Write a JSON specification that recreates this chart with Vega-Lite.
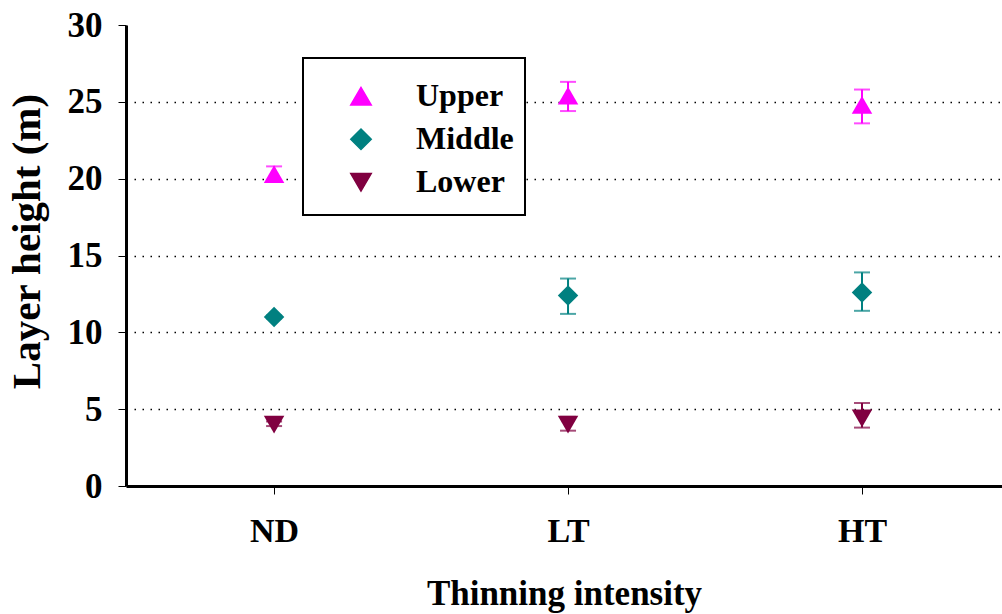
{
  "$schema": "https://vega.github.io/schema/vega-lite/v6.json",
  "width": 876,
  "height": 461,
  "autosize": {"type": "none"},
  "padding": {"left": 126, "top": 25, "right": 0, "bottom": 128},
  "background": "white",
  "config": {
    "view": {"stroke": null},
    "font": "Liberation Serif"
  },
  "data": {
    "values": [
      {"intensity": "ND", "layer": "Upper", "mean": 20.3, "lo": 19.8, "hi": 20.8},
      {"intensity": "ND", "layer": "Middle", "mean": 11.0, "lo": 10.9, "hi": 11.1},
      {"intensity": "ND", "layer": "Lower", "mean": 4.0, "lo": 3.9, "hi": 4.2},
      {"intensity": "LT", "layer": "Upper", "mean": 25.4, "lo": 24.4, "hi": 26.3},
      {"intensity": "LT", "layer": "Middle", "mean": 12.4, "lo": 11.2, "hi": 13.5},
      {"intensity": "LT", "layer": "Lower", "mean": 4.0, "lo": 3.6, "hi": 4.5},
      {"intensity": "HT", "layer": "Upper", "mean": 24.8, "lo": 23.6, "hi": 25.8},
      {"intensity": "HT", "layer": "Middle", "mean": 12.6, "lo": 11.4, "hi": 13.9},
      {"intensity": "HT", "layer": "Lower", "mean": 4.4, "lo": 3.8, "hi": 5.4}
    ]
  },
  "encoding": {
    "x": {
      "field": "intensity",
      "type": "nominal",
      "sort": ["ND", "LT", "HT"],
      "scale": {"type": "point", "padding": 0.49, "align": 0.514},
      "axis": {
        "title": "Thinning intensity",
        "labelAngle": 0,
        "labelFont": "Liberation Serif",
        "labelFontWeight": "bold",
        "labelFontSize": 34,
        "labelColor": "black",
        "labelPadding": 20,
        "titleFont": "Liberation Serif",
        "titleFontWeight": "bold",
        "titleFontSize": 35,
        "titleColor": "black",
        "titlePadding": 28,
        "domainColor": "black",
        "domainWidth": 3,
        "tickColor": "black",
        "tickWidth": 1,
        "tickSize": 8,
        "grid": false
      }
    }
  },
  "layer": [
    {
      "mark": {"type": "rule", "strokeWidth": 2},
      "encoding": {
        "y": {"field": "lo", "type": "quantitative"},
        "y2": {"field": "hi"},
        "color": {"field": "layer", "type": "nominal"}
      }
    },
    {
      "mark": {"type": "tick", "thickness": 2, "size": 16},
      "encoding": {
        "y": {"field": "lo", "type": "quantitative"},
        "color": {"field": "layer", "type": "nominal"}
      }
    },
    {
      "mark": {"type": "tick", "thickness": 2, "size": 16},
      "encoding": {
        "y": {"field": "hi", "type": "quantitative"},
        "color": {"field": "layer", "type": "nominal"}
      }
    },
    {
      "mark": {"type": "point", "filled": true, "opacity": 1, "size": 420},
      "encoding": {
        "y": {
          "field": "mean",
          "type": "quantitative",
          "scale": {"domain": [0, 30], "nice": false, "zero": true},
          "axis": {
            "title": "Layer height (m)",
            "values": [0, 5, 10, 15, 20, 25, 30],
            "labelFont": "Liberation Serif",
            "labelFontWeight": "bold",
            "labelFontSize": 35,
            "labelColor": "black",
            "labelPadding": 16,
            "titleFont": "Liberation Serif",
            "titleFontWeight": "bold",
            "titleFontSize": 41,
            "titleColor": "black",
            "titlePadding": 19,
            "titleY": 216,
            "domainColor": "black",
            "domainWidth": 3,
            "tickColor": "black",
            "tickWidth": 1,
            "tickSize": 8,
            "grid": true,
            "gridColor": "black",
            "gridWidth": 1.5,
            "gridDash": [1.5, 6.5],
            "gridOpacity": {"condition": {"test": "datum.value == 30 || datum.value == 0", "value": 0}, "value": 1}
          }
        },
        "color": {
          "field": "layer",
          "type": "nominal",
          "scale": {"domain": ["Upper", "Middle", "Lower"], "range": ["#FF00FF", "#008080", "#800040"]},
          "legend": {
            "title": " ",
            "titleFontSize": 6,
            "titlePadding": 0,
            "orient": "none",
            "legendX": 177,
            "legendY": 33,
            "fillColor": "white",
            "strokeColor": "black",
            "padding": 11,
            "clipHeight": 42.5,
            "rowPadding": 0,
            "symbolOffset": 31,
            "labelOffset": 39,
            "labelFont": "Liberation Serif",
            "labelFontWeight": "bold",
            "labelFontSize": 32,
            "labelColor": "black",
            "symbolSize": 420,
            "symbolOpacity": 1,
            "encode": {"legend": {"update": {"strokeWidth": {"value": 2}}}}
          }
        },
        "shape": {
          "field": "layer",
          "type": "nominal",
          "scale": {"domain": ["Upper", "Middle", "Lower"], "range": ["triangle-up", "diamond", "triangle-down"]}
        }
      }
    }
  ]
}
